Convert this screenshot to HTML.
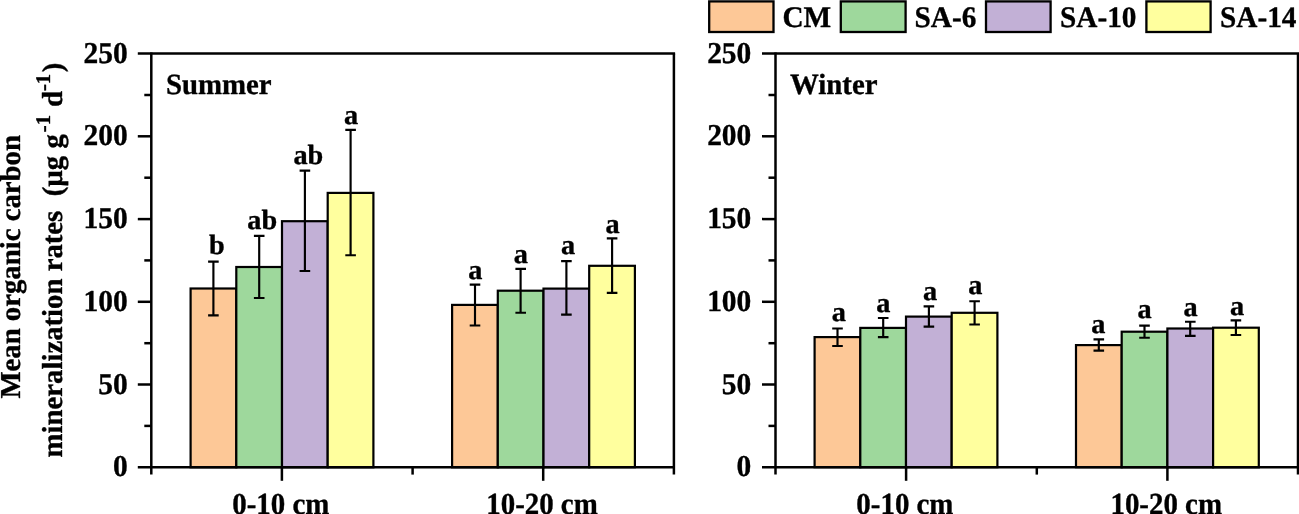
<!DOCTYPE html>
<html><head><meta charset="utf-8"><title>Mean organic carbon mineralization rates</title>
<style>
html,body{margin:0;padding:0;background:#fff;}
body{width:1299px;height:514px;overflow:hidden;}
svg{display:block;}
text{font-family:"Liberation Serif","Times New Roman",serif;font-weight:bold;font-size:29.45px;fill:#000;text-rendering:geometricPrecision;stroke:#000;stroke-width:0.35px;stroke-linejoin:round;}
.ax{stroke:#000;stroke-width:2.5;fill:none;stroke-linecap:butt;}
.bar{stroke:#000;stroke-width:2.2;}
.err{stroke:#000;stroke-width:2.15;fill:none;}
</style></head><body>
<svg width="1299" height="514" viewBox="0 0 1299 514">
<rect x="0" y="0" width="1299" height="514" fill="#fff"/>

<rect class="bar" x="190.6" y="288.5" width="45.7" height="178.8" fill="#FDC897"/>
<rect class="bar" x="236.3" y="267.0" width="45.7" height="200.2" fill="#9ED89C"/>
<rect class="bar" x="282.0" y="221.2" width="45.7" height="246.1" fill="#C2B0D6"/>
<rect class="bar" x="327.7" y="192.9" width="45.7" height="274.4" fill="#FFFF9E"/>
<path class="err" d="M213.4 261.6V315.3M208.1 261.6h10.6M208.1 315.3h10.6"/>
<text transform="translate(209.0,253.7) scale(1,0.98)" style="font-size:28.3px">b</text>
<path class="err" d="M259.2 235.8V298.0M253.9 235.8h10.6M253.9 298.0h10.6"/>
<text transform="translate(247.3,228.6) scale(1,0.98)" style="font-size:28.3px">ab</text>
<path class="err" d="M304.9 170.6V271.0M299.6 170.6h10.6M299.6 271.0h10.6"/>
<text transform="translate(293.4,164.0) scale(1,0.98)" style="font-size:28.3px">ab</text>
<path class="err" d="M350.6 129.9V255.2M345.3 129.9h10.6M345.3 255.2h10.6"/>
<text transform="translate(344.0,123.5) scale(1,0.98)" style="font-size:28.3px">a</text>
<rect class="bar" x="452.1" y="304.9" width="45.7" height="162.4" fill="#FDC897"/>
<rect class="bar" x="497.8" y="290.7" width="45.7" height="176.6" fill="#9ED89C"/>
<rect class="bar" x="543.5" y="288.6" width="45.7" height="178.6" fill="#C2B0D6"/>
<rect class="bar" x="589.2" y="265.8" width="45.7" height="201.4" fill="#FFFF9E"/>
<path class="err" d="M475.0 284.6V325.5M469.7 284.6h10.6M469.7 325.5h10.6"/>
<text transform="translate(468.2,278.8) scale(1,0.98)" style="font-size:28.3px">a</text>
<path class="err" d="M520.6 268.9V312.7M515.4 268.9h10.6M515.4 312.7h10.6"/>
<text transform="translate(513.8,262.8) scale(1,0.98)" style="font-size:28.3px">a</text>
<path class="err" d="M566.4 261.1V314.6M561.1 261.1h10.6M561.1 314.6h10.6"/>
<text transform="translate(561.0,254.3) scale(1,0.98)" style="font-size:28.3px">a</text>
<path class="err" d="M612.1 238.3V292.8M606.8 238.3h10.6M606.8 292.8h10.6"/>
<text transform="translate(605.4,232.9) scale(1,0.98)" style="font-size:28.3px">a</text>
<path class="ax" d="M151.3 52.4V474.6"/>
<path class="ax" d="M137.8 53.6H675.1"/>
<path class="ax" d="M673.9 53.6V474.6"/>
<path class="ax" d="M137.8 467.2H673.9"/>
<path class="ax" d="M137.8 384.5H151.3"/>
<path class="ax" d="M137.8 301.8H151.3"/>
<path class="ax" d="M137.8 219.1H151.3"/>
<path class="ax" d="M137.8 136.3H151.3"/>
<path class="ax" d="M144.3 425.9H151.3"/>
<path class="ax" d="M144.3 343.2H151.3"/>
<path class="ax" d="M144.3 260.4H151.3"/>
<path class="ax" d="M144.3 177.7H151.3"/>
<path class="ax" d="M144.3 95.0H151.3"/>
<text transform="translate(127.7,476.2) scale(1,1.03)" text-anchor="end">0</text>
<text transform="translate(127.7,393.5) scale(1,1.03)" text-anchor="end">50</text>
<text transform="translate(127.7,310.8) scale(1,1.03)" text-anchor="end">100</text>
<text transform="translate(127.7,228.1) scale(1,1.03)" text-anchor="end">150</text>
<text transform="translate(127.7,145.3) scale(1,1.03)" text-anchor="end">200</text>
<text transform="translate(127.7,62.6) scale(1,1.03)" text-anchor="end">250</text>
<path class="ax" d="M281.9 467.2V480.8"/>
<text transform="translate(280.8,513.8) scale(1,1.06)" text-anchor="middle" style="font-size:28.9px">0-10 cm</text>
<path class="ax" d="M543.2 467.2V480.8"/>
<text transform="translate(542.0,513.8) scale(1,1.06)" text-anchor="middle" style="font-size:28.9px">10-20 cm</text>
<path class="ax" d="M412.6 467.2V474.6"/>
<text transform="translate(166.0,93.8) scale(1,1.02)" style="font-size:28.8px">Summer</text>
<rect class="bar" x="814.6" y="337.1" width="45.7" height="130.1" fill="#FDC897"/>
<rect class="bar" x="860.3" y="327.9" width="45.7" height="139.4" fill="#9ED89C"/>
<rect class="bar" x="906.0" y="316.6" width="45.7" height="150.6" fill="#C2B0D6"/>
<rect class="bar" x="951.7" y="312.8" width="45.7" height="154.4" fill="#FFFF9E"/>
<path class="err" d="M837.5 328.5V346.0M832.2 328.5h10.6M832.2 346.0h10.6"/>
<text transform="translate(831.7,321.0) scale(1,0.98)" style="font-size:28.3px">a</text>
<path class="err" d="M883.2 318.0V337.1M877.9 318.0h10.6M877.9 337.1h10.6"/>
<text transform="translate(876.2,311.8) scale(1,0.98)" style="font-size:28.3px">a</text>
<path class="err" d="M928.9 306.4V326.6M923.6 306.4h10.6M923.6 326.6h10.6"/>
<text transform="translate(923.1,299.7) scale(1,0.98)" style="font-size:28.3px">a</text>
<path class="err" d="M974.6 301.2V324.5M969.3 301.2h10.6M969.3 324.5h10.6"/>
<text transform="translate(968.3,294.3) scale(1,0.98)" style="font-size:28.3px">a</text>
<rect class="bar" x="1076.0" y="345.1" width="45.7" height="122.1" fill="#FDC897"/>
<rect class="bar" x="1121.7" y="331.7" width="45.7" height="135.6" fill="#9ED89C"/>
<rect class="bar" x="1167.4" y="328.5" width="45.7" height="138.8" fill="#C2B0D6"/>
<rect class="bar" x="1213.1" y="327.7" width="45.7" height="139.6" fill="#FFFF9E"/>
<path class="err" d="M1098.8 339.3V350.6M1093.5 339.3h10.6M1093.5 350.6h10.6"/>
<text transform="translate(1091.3,333.4) scale(1,0.98)" style="font-size:28.3px">a</text>
<path class="err" d="M1144.5 325.6V337.7M1139.2 325.6h10.6M1139.2 337.7h10.6"/>
<text transform="translate(1137.4,318.1) scale(1,0.98)" style="font-size:28.3px">a</text>
<path class="err" d="M1190.2 321.7V335.8M1185.0 321.7h10.6M1185.0 335.8h10.6"/>
<text transform="translate(1183.4,315.7) scale(1,0.98)" style="font-size:28.3px">a</text>
<path class="err" d="M1235.9 320.4V335.0M1230.6 320.4h10.6M1230.6 335.0h10.6"/>
<text transform="translate(1230.0,314.5) scale(1,0.98)" style="font-size:28.3px">a</text>
<path class="ax" d="M775.5 52.4V474.6"/>
<path class="ax" d="M762.0 53.6H1299.2"/>
<path class="ax" d="M1298.0 53.6V474.6"/>
<path class="ax" d="M762.0 467.2H1298.0"/>
<path class="ax" d="M762.0 384.5H775.5"/>
<path class="ax" d="M762.0 301.8H775.5"/>
<path class="ax" d="M762.0 219.1H775.5"/>
<path class="ax" d="M762.0 136.3H775.5"/>
<path class="ax" d="M768.5 425.9H775.5"/>
<path class="ax" d="M768.5 343.2H775.5"/>
<path class="ax" d="M768.5 260.4H775.5"/>
<path class="ax" d="M768.5 177.7H775.5"/>
<path class="ax" d="M768.5 95.0H775.5"/>
<text transform="translate(751.3,476.2) scale(1,1.03)" text-anchor="end">0</text>
<text transform="translate(751.3,393.5) scale(1,1.03)" text-anchor="end">50</text>
<text transform="translate(751.3,310.8) scale(1,1.03)" text-anchor="end">100</text>
<text transform="translate(751.3,228.1) scale(1,1.03)" text-anchor="end">150</text>
<text transform="translate(751.3,145.3) scale(1,1.03)" text-anchor="end">200</text>
<text transform="translate(751.3,62.6) scale(1,1.03)" text-anchor="end">250</text>
<path class="ax" d="M906.1 467.2V480.8"/>
<text transform="translate(904.9,513.8) scale(1,1.06)" text-anchor="middle" style="font-size:28.9px">0-10 cm</text>
<path class="ax" d="M1167.4 467.2V480.8"/>
<text transform="translate(1166.2,513.8) scale(1,1.06)" text-anchor="middle" style="font-size:28.9px">10-20 cm</text>
<path class="ax" d="M1036.8 467.2V474.6"/>
<text transform="translate(790.0,93.8) scale(1,1.02)" style="font-size:28.8px">Winter</text>
<rect x="709.2" y="1.4" width="64.3" height="30.6" fill="#FDC897" stroke="#000" stroke-width="2.3"/>
<text transform="translate(782.5,26.5) scale(1,1.02)" style="font-size:29.25px">CM</text>
<rect x="840.8" y="1.4" width="64.8" height="30.6" fill="#9ED89C" stroke="#000" stroke-width="2.3"/>
<text transform="translate(914.6,26.5) scale(1,1.02)" style="font-size:29.25px">SA-6</text>
<rect x="986.0" y="1.4" width="64.6" height="30.6" fill="#C2B0D6" stroke="#000" stroke-width="2.3"/>
<text transform="translate(1060.0,26.5) scale(1,1.02)" style="font-size:29.25px">SA-10</text>
<rect x="1146.4" y="1.4" width="64.2" height="30.6" fill="#FFFF9E" stroke="#000" stroke-width="2.3"/>
<text transform="translate(1220.1,26.5) scale(1,1.02)" style="font-size:29.25px">SA-14</text>
<text transform="translate(20.3,398.6) rotate(-90) scale(1,1.005)" style="font-size:28.75px">Mean organic carbon</text>
<text transform="translate(62.2,457.4) rotate(-90) scale(1,1.005)" style="font-size:28.75px;white-space:pre" xml:space="preserve">mineralization rates  (µg g<tspan dx="2" dy="-12.6" font-size="20.7">-1</tspan><tspan dx="0.7" dy="12.6"> d</tspan><tspan dy="-12.6" font-size="20.7">-1</tspan><tspan dx="1.6" dy="12.6">)</tspan></text>
</svg></body></html>
